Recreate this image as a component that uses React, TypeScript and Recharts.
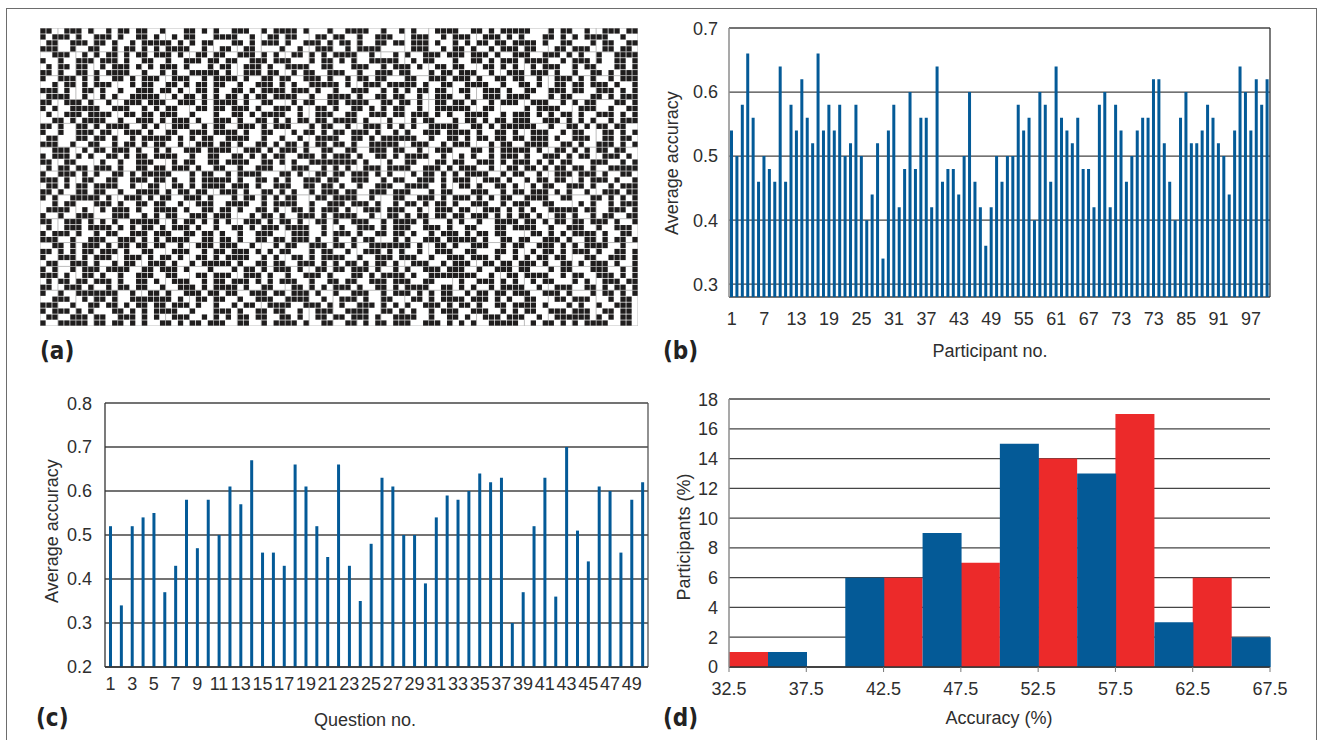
import { ScatterChart, Scatter, BarChart, Bar, XAxis, YAxis, CartesianGrid, ReferenceLine } from 'recharts';

// (a) answer matrix, 50 questions (rows) x 100 participants (columns); '#' = black cell
const MATRIX_ROWS = [
  '##..###.#. .#.##.##.. #...##.#.# ..###..#.# ###.#...#. .####..#.. #.#...#### ..##.#.### ##...#.##. .#..###.##',
  '#.###.#..# ##.#..##.# ..#.##...# ###..#..## .##...##.# #..#..###. ..###..#.# ##..###.#. #...##.#.# .####..#..',
  '.##..###.# #.#..#.### ##.#.#.##. ..##.#.### .#..###.#. ##.#..##.# #.###.#..# .#.##.##.# ###.#..##. ..#.##..##',
  '###..#..## ..#.##.#.# .####..#.. ##..##.... #..#..###. .#.####... ..###..#.# #.#..#.### .##...##.# ##..##.##.',
  '..###..#.# .##.#.##.# ##.#..##.# #..###.#.# ..##.#.#.# ###..#...# .#..###.## #.###.#..# ##..###.#. #..#..####',
  '#..#..###. ###.#..##. .#..###.## .##..###.# ##...#.##. #.#..##### ..#.##...# ..##.#.### .####..#.# ##.#..##.#',
  '.#.##.##.. #.###.#.#. ###.#...#. ##..###.#. .####..##. ..###..#.# ##.#..##.# #...##.#.# ..#.###..# .##...##.#',
  '##.#..##.# .####..#.. #.#..##### .#..###.## ..#.##..## #..#..###. ##...#.##. ###..#..## #.###.#..# ..##.#.###',
  '#..###.#.# ..##.#.### ..###..#.# ###.#..##. ##..###.#. .#.##.##.. .##..###.# ##.#..##.# #..#..###. #.#..#.###',
  '..#.##.#.# ##...#.##. .##.#.##.# #..#..###. #.#..##### .#..###.## ###.#..##. .####..#.. ##.#..##.# #.###.#..#',
  '###.#..##. #..#..###. ##.#..##.# ..##.#.### #.###.#..# ..###..#.# .#.##.##.. ##..###.#. .##..###.# #..###.#.#',
  '.####..#.. #.#..##### ..#.##.#.# .##.#.##.# ###..#..## ##.#..##.# #..#..###. .#..###.## ##...#.##. ..##.#.###',
  '##..###.#. .#..###.## #..###.#.# ###.#..##. ..#.##..## .####..##. ##.#..##.# #.#..#.### ..###..#.# .##...##.#',
  '#.#..##### ..###..#.# .##...##.# #.###.#..# ##.#..##.# ..##.#.#.# #..#..#### ##..##.... .#.####... ###..#..##',
  '.#..###.## ##..##.##. ###..#...# ..##.#.### #..#..###. .##..###.# #.###.#.#. .####..#.# ##.#.#.##. #..###.#.#',
  '..##.#.### #..#..###. #.###.#..# ##.#..##.# .#.##.##.# ###.#...#. ..#.##...# .##.#.##.# ##..###.#. #.#..#.###',
  '##.#..##.# .####..#.# ..###..#.# #..###.#.# ##...#.##. .#..###.#. #.#..##### ..##.#.### ###..#..## .#.##.##..',
  '#..#..###. ##..###.#. .##..###.# ###.#..##. ..#.##.#.# #.###.#..# .#..###.## ##.#..##.# ..###..#.# #...##.#.#',
  '.##...##.# #.#..#.### ##.#.#.##. .####..#.. #..#..#### ..##.#.### ###..#..## .#.##.##.# #.###.#..# ##..##.##.',
  '###..#..## ..#.##.#.# #..#..###. ##.#..##.# .##.#.##.# #.#..##### ..###..#.# ##...#.##. .####..##. #..###.#.#',
  '..###..#.# #.###.#..# .#..###.## ##..###.#. ###.#..##. .##..###.# #..#..###. ..##.#.### ##.#..##.# .#.##.##..',
  '#.###.#.#. .##.#.##.# ###..#..## ..##.#.#.# #..###.#.# ##.#..##.# .####..#.. #.#..#.### .#..###.#. ##..###.#.',
  '##..##.... #..#..###. ..#.##..## .####..##. #.#..##### ###.#...#. .##...##.# #..###.#.# ##.#.#.##. ..###..#.#',
  '.#.##.##.# ##.#..##.# #.###.#..# #..#..###. ..###..#.# .#..###.## ##..###.#. ###..#..## .##.#.##.# #.#..#####',
  '#..###.#.# ..##.#.### ##...#.##. .#.####... ##.#..##.# #.###.#.#. ..#.##.#.# .####..#.# #..#..###. ###.#..##.',
  '###.#..##. .##..###.# #.#..#.### ##.#..##.# .#..###.## ..###..#.# #..###.#.# ##..###.#. .#.##.##.. #.###.#..#',
  '.##.#.##.# ###..#..## ..##.#.### #.###.#..# ##..##.##. #..#..###. .####..#.. ##.#..##.# ..#.##..## #.#..#.###',
  '##.#..##.# #..#..#### .#.##.##.. ###.#..##. #.#..#.### .##..###.# ##...#.##. ..###..#.# #.###.#.#. .#..###.##',
  '#.#..##### .#..###.#. ##..###.#. ..#.##.#.# .##...##.# ###..#...# #..###.#.# ##.#.#.##. .####..##. ..##.#.#.#',
  '..#.##...# ##.#..##.# #..#..###. .####..#.# ###..#..## #.###.#..# .##.#.##.# ..###..#.# ##..##.... #.#..#.###',
  '.####..#.. #.###.#..# ###.#..##. ##.#..##.# ..##.#.### .#..###.## #..#..###. ##..###.#. #.#..##### .##..###.#',
  '#..#..###. ..###..#.# .##..###.# ##...#.##. #..###.#.# ###..#..## .#.##.##.# #.###.#.#. ##.#..##.# ..#.##..##',
  '##..###.#. #.#..##### ..#.##.#.# .#..###.#. ##.#..##.# ..###..#.# ###.#...#. #..#..#### .##.#.##.# #.###.#..#',
  '.#..###.## ##.#.#.##. #.###.#..# ..##.#.### .####..#.. #..###.#.# ##..###.#. .##...##.# ###..#..## #..#..###.',
  '#.###.#..# .##..###.# ##..##.##. #..#..###. ..###..#.# ##.#..##.# #.#..#.### .#.##.##.. ..##.#.#.# ###.#..##.',
  '###..#..## #..###.#.# .####..##. ##.#..##.# #.###.#..# ..#.##...# .#..###.## ###.#..##. ##..###.#. .##.#.##.#',
  '..##.#.### .#.##.##.# #..#..###. ###..#...# .##..###.# #.#..##### ##.#..##.# ..###..#.# #..###.#.# .####..#..',
  '##.#.#.##. ###.#..##. ..###..#.# #.###.#.#. ##...#.##. .#..###.#. #..#..###. .##...##.# ..#.##.#.# ##.#..##.#',
  '#..###.#.# ##..###.#. ##.#..##.# .####..#.# ..##.#.### #..#..###. ###..#..## #.###.#..# .#.##.##.. .##..###.#',
  '.##..###.# ..#.##..## #.#..#.### ##.#..##.# #..###.#.# .##.#.##.# ..###..#.# ##..##.##. ###.#..##. #.###.#..#',
  '#.#..#.### .####..##. ###.#...#. ..#.##.#.# ##.#..##.# #.###.#..# .#..###.## #..#..###. ##...#.##. ..###..#.#',
  '###.#..##. #..#..###. .##...##.# ##..###.#. .#..###.#. ..##.#.### #.#..##### ###..#..## .####..#.# #..###.#.#',
  '.#.##.##.# ##.#..##.# ..###..#.# #.###.#.#. ###..#..## .##..###.# ##..##.... #..###.#.# ..#.##...# .#..###.##',
  '##..###.#. .#.##.##.. #..###.#.# ###.#..##. ..##.#.#.# ##.#..##.# .####..##. #.#..#.### #..#..###. .##.#.##.#',
  '#..#..#### ###..#..## .#..###.## .##..###.# #.###.#..# ..###..#.# ##.#.#.##. .#.##.##.# ##..###.#. ..#.##.#.#',
  '..###..#.# #.#..##### ##.#..##.# #..#..###. .####..#.. ###.#..##. ..##.#.### #.###.#.#. .##...##.# ##...#.##.',
  '###..#..## .##.#.##.# #.###.#..# ..#.##..## ##..###.#. #..###.#.# .#..###.#. ##.#..##.# ###.#...#. #..#..###.',
  '#.###.#.#. ..##.#.#.# ###..#...# ##.#..##.# #..#..###. .####..##. #.#..#.### ..###..#.# .##..###.# ##..##.##.',
  '.##..###.# #..###.#.# ..###..#.# .#.##.##.. ##.#..##.# #.###.#..# ###..#..## .#..###.## #..#..#### ##.#.#.##.',
  '#..#####.# #.##.#.#.. ##.#.##.## #..##..#.# ###.#..##. .##.#.##.# ##..###.#. #.#..##### ..#.##.#.# .####..##.',
];

// (b) average accuracy per participant
const PARTICIPANT_ACC = [
  0.54, 0.50, 0.58, 0.66, 0.56, 0.46, 0.50, 0.48, 0.46, 0.64,
  0.46, 0.58, 0.54, 0.62, 0.56, 0.52, 0.66, 0.54, 0.58, 0.54,
  0.58, 0.50, 0.52, 0.58, 0.50, 0.40, 0.44, 0.52, 0.34, 0.54,
  0.58, 0.42, 0.48, 0.60, 0.48, 0.56, 0.56, 0.42, 0.64, 0.46,
  0.48, 0.48, 0.44, 0.50, 0.60, 0.46, 0.42, 0.36, 0.42, 0.50,
  0.46, 0.50, 0.50, 0.58, 0.54, 0.56, 0.40, 0.60, 0.58, 0.46,
  0.64, 0.56, 0.54, 0.52, 0.56, 0.48, 0.48, 0.42, 0.58, 0.60,
  0.42, 0.58, 0.54, 0.46, 0.50, 0.54, 0.56, 0.56, 0.62, 0.62,
  0.52, 0.46, 0.40, 0.56, 0.60, 0.52, 0.52, 0.54, 0.58, 0.56,
  0.52, 0.50, 0.44, 0.54, 0.64, 0.60, 0.54, 0.62, 0.58, 0.62,
];
const PARTICIPANT_TICKS = [1, 7, 13, 19, 25, 31, 37, 43, 49, 55, 61, 67, 73, 79, 85, 91, 97];
const PARTICIPANT_TICK_LABELS = ['1', '7', '13', '19', '25', '31', '37', '43', '49', '55', '61', '67', '73', '73', '85', '91', '97'];
const ACC_TICKS_B = [0.3, 0.4, 0.5, 0.6, 0.7];

// (c) average accuracy per question
const QUESTION_ACC = [
  0.52, 0.34, 0.52, 0.54, 0.55, 0.37, 0.43, 0.58, 0.47, 0.58,
  0.50, 0.61, 0.57, 0.67, 0.46, 0.46, 0.43, 0.66, 0.61, 0.52,
  0.45, 0.66, 0.43, 0.35, 0.48, 0.63, 0.61, 0.50, 0.50, 0.39,
  0.54, 0.59, 0.58, 0.60, 0.64, 0.62, 0.63, 0.30, 0.37, 0.52,
  0.63, 0.36, 0.70, 0.51, 0.44, 0.61, 0.60, 0.46, 0.58, 0.62,
];
const ACC_TICKS_C = [0.2, 0.3, 0.4, 0.5, 0.6, 0.7, 0.8];

// (d) histogram of accuracy (% of participants), two series per 5% bin
const BIN_NAMES = ['32.5-37.5', '37.5-42.5', '42.5-47.5', '47.5-52.5', '52.5-57.5', '57.5-62.5', '62.5-67.5'];
const RED_PCT = [1, 0, 6, 7, 14, 17, 6];
const BLUE_PCT = [1, 6, 9, 15, 13, 3, 2];
const BIN_EDGE_LABELS = ['32.5', '37.5', '42.5', '47.5', '52.5', '57.5', '62.5', '67.5'];
const PCT_TICKS = [0, 2, 4, 6, 8, 10, 12, 14, 16, 18];

const BLUE = '#045a97';
const RED = '#ec2a2a';
const GRID = '#454545';
const TEXT = '#2e2e2e';
const FONT = "'Liberation Sans', Arial, sans-serif";
const HEAVY = "'Liberation Sans Narrow', 'DejaVu Sans Condensed', 'Liberation Sans', sans-serif";

const tickStyle = { fill: TEXT, fontSize: 18, fontFamily: FONT };

// matrix geometry
const A_W = 598;
const A_H = 298;
const COLS = 100;
const ROWS = 50;
const CELL_W = A_W / COLS;
const CELL_H = A_H / ROWS;
const COL_TICKS = Array.from({ length: COLS + 1 }, (_, i) => i);
const ROW_TICKS = Array.from({ length: ROWS + 1 }, (_, i) => i);

const cells: { x: number; y: number }[] = [];
MATRIX_ROWS.forEach((line, r) => {
  line.replace(/ /g, '').split('').forEach((ch, c) => {
    if (ch === '#') cells.push({ x: c + 0.5, y: r + 0.5 });
  });
});

const participantRows = PARTICIPANT_ACC.map((acc, i) => ({ p: i + 1, acc }));
const questionRows = QUESTION_ACC.map((acc, i) => ({ q: i + 1, acc }));
const binRows = BIN_NAMES.map((bin, i) => ({ bin, red: RED_PCT[i], blue: BLUE_PCT[i] }));

const fmtParticipant = (v: number) => {
  const i = PARTICIPANT_TICKS.indexOf(v);
  return i >= 0 ? PARTICIPANT_TICK_LABELS[i] : String(v);
};

const CellShape = (p: any) => (
  <rect
    x={p.cx - CELL_W / 2 + 0.35}
    y={p.cy - CELL_H / 2 + 0.35}
    width={CELL_W - 0.7}
    height={CELL_H - 0.7}
    fill="#1f1d1d"
  />
);

// (d) plot is 541px wide, 7 bins
const D_BAND = 541 / BIN_NAMES.length;
const D_TICK_SIZE = 5;
const D_TICK_MARGIN = 10;

const EdgeTick = (props: any) => {
  const { x, y, index } = props;
  const axisY = y - D_TICK_SIZE - D_TICK_MARGIN;
  const items = [{ label: BIN_EDGE_LABELS[index], cx: x - D_BAND / 2 }];
  if (index === BIN_NAMES.length - 1) items.push({ label: BIN_EDGE_LABELS[index + 1], cx: x + D_BAND / 2 });
  return (
    <g>
      {items.map(it => (
        <g key={it.label}>
          <line x1={it.cx} x2={it.cx} y1={axisY} y2={axisY + D_TICK_SIZE} stroke="#777" />
          <text x={it.cx} y={y} dy="0.71em" textAnchor="middle" fill={TEXT} fontSize={18} fontFamily={FONT}>
            {it.label}
          </text>
        </g>
      ))}
    </g>
  );
};

const centered = (cx: number, cy: number, extra: any = {}) => ({
  position: 'absolute' as const,
  left: cx,
  top: cy,
  transform: 'translate(-50%, -50%)',
  whiteSpace: 'nowrap' as const,
  lineHeight: 1,
  fontFamily: FONT,
  fontSize: 18,
  color: TEXT,
  ...extra,
});

const rotated = (cx: number, cy: number) =>
  centered(cx, cy, { transform: 'translate(-50%, -50%) rotate(-90deg)' });

const panelLabel = (left: number, cy: number) => ({
  position: 'absolute' as const,
  left,
  top: cy,
  transform: 'translateY(-50%)',
  lineHeight: 1,
  fontFamily: HEAVY,
  fontWeight: 900,
  fontSize: 24,
  color: '#222',
});

export default function App() {
  return (
    <div style={{ position: 'absolute', left: 0, top: 0, width: 1321, height: 740, background: '#fff', overflow: 'hidden' }}>
      {/* frame */}
      <div style={{ position: 'absolute', left: 6, top: 8, width: 1311, height: 760, border: '1px solid #6d6d6d', boxSizing: 'border-box' }} />

      {/* (a) matrix */}
      <div style={{ position: 'absolute', left: 40, top: 28 }}>
        <ScatterChart width={A_W} height={A_H} margin={{ top: 0, right: 0, bottom: 0, left: 0 }}>
          <CartesianGrid stroke="#bcbcbc" strokeWidth={1} />
          <XAxis type="number" dataKey="x" domain={[0, COLS]} ticks={COL_TICKS} hide />
          <YAxis type="number" dataKey="y" domain={[0, ROWS]} ticks={ROW_TICKS} reversed hide />
          <Scatter data={cells} shape={CellShape} isAnimationActive={false} />
        </ScatterChart>
      </div>
      <div style={panelLabel(40, 351)}>(a)</div>

      {/* (b) participants */}
      <div style={{ position: 'absolute', left: 650, top: 18 }}>
        <BarChart width={640} height={350} data={participantRows} margin={{ top: 10, right: 20, bottom: 41, left: 0 }} barSize={3}>
          <CartesianGrid vertical={false} stroke={GRID} strokeWidth={1.3} />
          <XAxis dataKey="p" interval={5} height={30} tickLine={false} axisLine={false} tickSize={8} tickMargin={7} tick={tickStyle} tickFormatter={fmtParticipant} />
          <YAxis domain={[0.28, 0.7]} ticks={ACC_TICKS_B} allowDataOverflow width={79} tickLine={false} tickSize={8} tickMargin={3}
            axisLine={{ stroke: '#8c8c8c', strokeWidth: 1.5 }} tick={tickStyle} tickFormatter={(v: number) => v.toFixed(1)} />
          <ReferenceLine x={100} position="end" stroke="#333" strokeWidth={1.3} />
          <Bar dataKey="acc" fill={BLUE} isAnimationActive={false} />
        </BarChart>
      </div>
      <div style={rotated(672, 163)}>Average accuracy</div>
      <div style={centered(990, 351)}>Participant no.</div>
      <div style={panelLabel(663, 351)}>(b)</div>

      {/* (c) questions */}
      <div style={{ position: 'absolute', left: 30, top: 393 }}>
        <BarChart width={640} height={340} data={questionRows} margin={{ top: 10, right: 22, bottom: 36, left: 0 }} barSize={3}>
          <CartesianGrid vertical={false} stroke={GRID} strokeWidth={1.3} />
          <XAxis dataKey="q" interval={1} height={30} tickLine={false} axisLine={{ stroke: '#333', strokeWidth: 1.3 }} tickSize={6} tickMargin={4} tick={tickStyle} />
          <YAxis domain={[0.2, 0.8]} ticks={ACC_TICKS_C} allowDataOverflow width={75} tickLine={false} tickSize={8} tickMargin={5}
            axisLine={{ stroke: '#333', strokeWidth: 1.3 }} tick={tickStyle} tickFormatter={(v: number) => v.toFixed(1)} />
          <ReferenceLine x={50} position="end" stroke="#555" strokeWidth={1.3} />
          <Bar dataKey="acc" fill={BLUE} isAnimationActive={false} />
        </BarChart>
      </div>
      <div style={rotated(52, 531)}>Average accuracy</div>
      <div style={centered(365, 720)}>Question no.</div>
      <div style={panelLabel(36, 718)}>(c)</div>

      {/* (d) histogram */}
      <div style={{ position: 'absolute', left: 650, top: 389 }}>
        <BarChart width={640} height={345} data={binRows} margin={{ top: 10, right: 20, bottom: 37, left: 0 }} barCategoryGap={0} barGap={0}>
          <CartesianGrid vertical={false} stroke={GRID} strokeWidth={1.3} />
          <XAxis dataKey="bin" interval={0} height={30} tickLine={false} axisLine={{ stroke: '#333', strokeWidth: 1.3 }}
            tickSize={D_TICK_SIZE} tickMargin={D_TICK_MARGIN} tick={<EdgeTick />} />
          <YAxis domain={[0, 18]} ticks={PCT_TICKS} width={79} tickLine={false} tickSize={8} tickMargin={3}
            axisLine={{ stroke: '#8c8c8c', strokeWidth: 1.5 }} tick={tickStyle} />
          <ReferenceLine x={BIN_NAMES[BIN_NAMES.length - 1]} position="end" stroke="#666" strokeWidth={1.3} />
          <Bar dataKey="red" fill={RED} isAnimationActive={false} />
          <Bar dataKey="blue" fill={BLUE} isAnimationActive={false} />
        </BarChart>
      </div>
      <div style={rotated(684, 537)}>Participants (%)</div>
      <div style={centered(999, 718)}>Accuracy (%)</div>
      <div style={panelLabel(663, 718)}>(d)</div>
    </div>
  );
}
